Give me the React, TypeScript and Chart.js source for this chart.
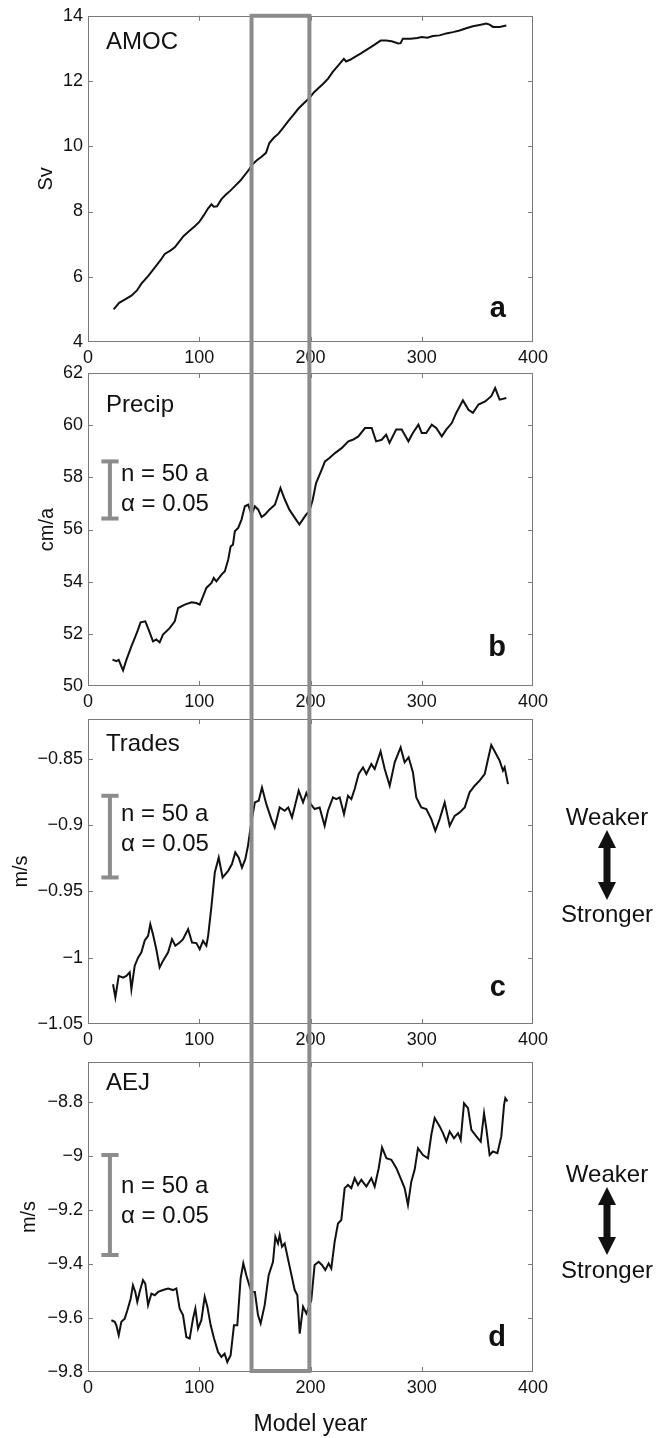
import React, { useEffect, useRef } from 'react';
import { Chart, registerables } from 'chart.js';

Chart.register(...registerables);

// ---------------- data ----------------
const X_TICKS = [0, 100, 200, 300, 400];
const X_TICK_LABELS = ['0', '100', '200', '300', '400'];
const HIGHLIGHT_YEARS = [147, 199];

const AMOC_YEARS = [23, 28, 33, 39, 44, 48, 54, 60, 65, 69, 74, 78, 82, 86, 91, 96, 100, 104, 108, 111, 113, 116, 120, 124, 128, 132, 137, 141, 145, 148, 152, 156, 160, 163, 167, 171, 175, 180, 185, 189, 194, 199, 203, 207, 211, 216, 220, 225, 230, 232, 236, 240, 245, 251, 257, 263, 268, 273, 279, 281, 283, 290, 296, 300, 305, 310, 316, 322, 328, 334, 340, 346, 352, 358, 361, 364, 370, 376];
const AMOC_SV = [5.0, 5.2, 5.3, 5.42, 5.58, 5.79, 6.02, 6.28, 6.5, 6.7, 6.8, 6.9, 7.08, 7.25, 7.4, 7.55, 7.68, 7.88, 8.1, 8.22, 8.15, 8.16, 8.38, 8.52, 8.64, 8.78, 8.95, 9.12, 9.3, 9.45, 9.58, 9.68, 9.8, 10.1, 10.26, 10.38, 10.55, 10.77, 10.98, 11.15, 11.32, 11.48, 11.65, 11.78, 11.9, 12.08, 12.28, 12.48, 12.68, 12.6, 12.66, 12.74, 12.84, 12.97, 13.1, 13.24, 13.24, 13.22, 13.15, 13.16, 13.3, 13.3, 13.32, 13.35, 13.33, 13.38, 13.4, 13.46, 13.5, 13.55, 13.62, 13.68, 13.72, 13.76, 13.73, 13.66, 13.66, 13.7];
const AMOC_TICKS = [4, 6, 8, 10, 12, 14];
const AMOC_TICK_LABELS = ['4', '6', '8', '10', '12', '14'];

const PRECIP_YEARS = [22, 25.5, 27.6, 30, 31.5, 34.5, 39, 42, 45, 47.3, 51.5, 54.5, 58.4, 61.4, 64.4, 67.4, 73.4, 78, 81, 87, 93, 97.4, 100.4, 103.4, 106.4, 111, 113, 115.4, 120, 123, 126, 128.2, 130.3, 132, 135, 138, 141, 144, 147, 150, 153, 156, 159, 163, 168, 173, 177, 181, 184, 187, 190, 193, 196, 199, 202, 205, 210, 213, 217, 222, 228, 234, 238, 243, 249, 255, 259, 264, 268, 271, 277, 282, 288, 292, 297, 300, 304, 309, 313, 318, 322, 327, 331, 337, 342, 346, 351, 357, 362.5, 366, 370, 376];
const PRECIP_CMA = [51.01, 50.95, 51.0, 50.75, 50.6, 51.0, 51.52, 51.84, 52.16, 52.44, 52.48, 52.16, 51.71, 51.78, 51.67, 51.97, 52.22, 52.48, 52.99, 53.12, 53.21, 53.18, 53.12, 53.44, 53.76, 53.95, 54.14, 54.01, 54.27, 54.4, 54.84, 55.35, 55.42, 55.93, 56.06, 56.38, 56.89, 56.95, 56.57, 56.89, 56.76, 56.48, 56.57, 56.76, 56.95, 57.59, 57.14, 56.76, 56.57, 56.38, 56.19, 56.38, 56.57, 56.7, 57.14, 57.78, 58.29, 58.61, 58.74, 58.93, 59.12, 59.38, 59.44, 59.57, 59.89, 59.89, 59.38, 59.44, 59.64, 59.32, 59.83, 59.83, 59.38, 59.7, 60.02, 59.7, 59.7, 60.02, 59.89, 59.57, 59.83, 60.08, 60.47, 60.95, 60.59, 60.47, 60.79, 60.91, 61.11, 61.42, 60.98, 61.04];
const PRECIP_TICKS = [50, 52, 54, 56, 58, 60, 62];
const PRECIP_TICK_LABELS = ['50', '52', '54', '56', '58', '60', '62'];
const PRECIP_ERR = [58.61, 56.42];

const TRADES_YEARS = [22.5, 24.6, 27.6, 31.5, 34.5, 37.5, 39, 42, 45, 48, 51, 54, 56, 58.4, 61.4, 64.4, 67.4, 72, 75.5, 78.5, 82.4, 85.4, 90, 93.5, 97.4, 100.4, 103.4, 106.4, 108, 111, 114, 117.5, 121, 126, 129.4, 132.4, 135.4, 138.4, 141.4, 143.8, 146.8, 150, 153.4, 156.4, 160.3, 164.8, 167.8, 172.3, 176.8, 180, 183.4, 189.4, 193.3, 196.3, 200.2, 203.7, 208.2, 212.7, 215.7, 220.2, 223.2, 226.2, 230.1, 233.7, 236.7, 239.7, 243.3, 247.2, 250.2, 254.7, 257.7, 263, 266.7, 271.2, 275.7, 281, 284.6, 288.2, 292.1, 295.1, 299.6, 304.1, 308.6, 312.2, 316.1, 320.6, 325.1, 329.6, 334.1, 338.6, 343, 347.6, 352, 356.6, 359.6, 362.5, 366.1, 370, 373, 374.5, 377.5];
const TRADES_MS = [-1.02, -1.03, -1.0137, -1.015, -1.0137, -1.011, -1.0238, -1.006, -1.0, -0.996, -0.987, -0.9835, -0.9747, -0.9823, -0.9936, -1.0074, -1.0024, -0.996, -0.986, -0.991, -0.9886, -0.986, -0.9785, -0.9886, -0.989, -0.9936, -0.9873, -0.991, -0.9835, -0.9609, -0.9357, -0.9244, -0.9395, -0.9345, -0.9294, -0.9206, -0.9244, -0.932, -0.9257, -0.9156, -0.898, -0.8829, -0.8816, -0.8716, -0.8842, -0.8955, -0.9018, -0.8867, -0.8892, -0.8867, -0.8942, -0.8741, -0.8829, -0.8758, -0.8842, -0.8879, -0.8867, -0.9005, -0.8892, -0.8791, -0.8804, -0.8791, -0.8917, -0.8779, -0.8804, -0.8728, -0.8615, -0.8565, -0.8615, -0.854, -0.8577, -0.8444, -0.8577, -0.8703, -0.8527, -0.8414, -0.8527, -0.8489, -0.8603, -0.8791, -0.8867, -0.8879, -0.8955, -0.9043, -0.8955, -0.8829, -0.9005, -0.893, -0.8904, -0.8867, -0.8753, -0.8703, -0.8665, -0.8615, -0.8502, -0.8396, -0.8452, -0.8514, -0.859, -0.8565, -0.8691];
const TRADES_TICKS = [-1.05, -1, -0.95, -0.9, -0.85];
const TRADES_TICK_LABELS = ['\u22121.05', '\u22121', '\u22120.95', '\u22120.9', '\u22120.85'];
const TRADES_ERR = [-0.8779, -0.9395];

const AEJ_YEARS = [21, 24, 25.5, 27.6, 30, 33, 35.4, 38.4, 40.4, 42.5, 44.3, 46.4, 49.4, 51.5, 54, 57, 60, 63, 67.4, 72, 76.4, 79.4, 82.4, 85.4, 88.4, 91.4, 94.4, 96.5, 98.9, 101.9, 104.9, 107.3, 110.3, 113.3, 116.9, 119.9, 122.8, 125.2, 128.2, 131.2, 134.2, 137.2, 139.6, 142.3, 146.8, 150, 152.8, 155.2, 158.8, 162.4, 166.3, 168.4, 170.8, 172.3, 174.4, 176.8, 181.3, 185.8, 188.2, 190.3, 193.3, 196.3, 200.7, 203.7, 207.3, 210.3, 213.3, 216.3, 218.7, 221.7, 224.7, 227.7, 230.7, 233.7, 236.7, 239.7, 242.7, 245.7, 250.2, 254.7, 257.7, 261.3, 264.3, 268.2, 272.7, 277.2, 281.6, 284.6, 287.6, 290.6, 293.6, 296.6, 301.1, 305.6, 308.6, 311.6, 316.1, 319.1, 322.1, 325.1, 329, 332.6, 335, 338, 341.6, 344.6, 349.1, 353, 356, 358, 361, 364, 368, 371.5, 374, 375.1, 377];
const AEJ_MS = [-9.608, -9.614, -9.627, -9.664, -9.614, -9.602, -9.571, -9.527, -9.478, -9.503, -9.54, -9.503, -9.459, -9.472, -9.552, -9.509, -9.515, -9.503, -9.496, -9.49, -9.496, -9.49, -9.565, -9.589, -9.67, -9.676, -9.602, -9.565, -9.639, -9.608, -9.521, -9.558, -9.627, -9.676, -9.726, -9.744, -9.732, -9.763, -9.738, -9.627, -9.627, -9.453, -9.397, -9.441, -9.503, -9.503, -9.589, -9.62, -9.552, -9.441, -9.391, -9.298, -9.323, -9.292, -9.335, -9.323, -9.41, -9.496, -9.515, -9.658, -9.558, -9.583, -9.534, -9.403, -9.391, -9.403, -9.422, -9.397, -9.416, -9.317, -9.249, -9.236, -9.118, -9.106, -9.118, -9.081, -9.106, -9.087, -9.112, -9.081, -9.112, -9.044, -8.967, -9.007, -9.013, -9.044, -9.087, -9.118, -9.18, -9.094, -9.05, -8.97, -8.995, -9.007, -8.92, -8.858, -8.889, -8.914, -8.945, -8.908, -8.933, -8.914, -8.939, -8.803, -8.821, -8.902, -8.926, -8.945, -8.84, -8.895, -8.995, -8.982, -8.988, -8.926, -8.809, -8.784, -8.796];
const AEJ_TICKS = [-9.8, -9.6, -9.4, -9.2, -9, -8.8];
const AEJ_TICK_LABELS = ['\u22129.8', '\u22129.6', '\u22129.4', '\u22129.2', '\u22129', '\u22128.8'];
const AEJ_ERR = [-8.995, -9.366];

const ERR_X = [12, 19.7, 27.5]; // left cap, bar, right cap (model years)
const ERR_TEXT = ['n = 50 a', '\u03b1 = 0.05'];

// ---------------- styles / layout ----------------
const W = 659;
const H = 1438;
const FONT = "'Liberation Sans', Arial, Helvetica, sans-serif";
const INK = '#111111';
const FRAME = '#7a7a7a';
const GRAY = '#8c8c8c';
const PLOT_LEFT = 88;
const PLOT_RIGHT = 533;

type Panel = {
  years: number[];
  values: number[];
  yMin: number;
  yMax: number;
  yTicks: number[];
  yLabels: string[];
  yTitle: string;
  yTitleCenter: number;
  name: string;
  nameBaseline: number;
  letter: string;
  letterBaseline: number;
  top: number;
  bottom: number;
  xHeight: number;
  err?: number[];
  errTextBaselines?: number[];
  arrows?: { weaker: number; tipTop: number; tipBottom: number; stronger: number };
  xTitle?: string;
};

const PANELS: Panel[] = [
  {
    years: AMOC_YEARS, values: AMOC_SV, yMin: 4, yMax: 14, yTicks: AMOC_TICKS, yLabels: AMOC_TICK_LABELS,
    yTitle: 'Sv', yTitleCenter: 46, name: 'AMOC', nameBaseline: 33, letter: 'a', letterBaseline: 25,
    top: 14, bottom: 342, xHeight: 30,
  },
  {
    years: PRECIP_YEARS, values: PRECIP_CMA, yMin: 50, yMax: 62, yTicks: PRECIP_TICKS, yLabels: PRECIP_TICK_LABELS,
    yTitle: 'cm/a', yTitleCenter: 47, name: 'Precip', nameBaseline: 39, letter: 'b', letterBaseline: 30,
    top: 373, bottom: 686, xHeight: 30, err: PRECIP_ERR, errTextBaselines: [108, 138],
  },
  {
    years: TRADES_YEARS, values: TRADES_MS, yMin: -1.05, yMax: -0.82, yTicks: TRADES_TICKS, yLabels: TRADES_TICK_LABELS,
    yTitle: 'm/s', yTitleCenter: 21, name: 'Trades', nameBaseline: 32, letter: 'c', letterBaseline: 28,
    top: 719, bottom: 1024, xHeight: 30, err: TRADES_ERR, errTextBaselines: [102, 132],
    arrows: { weaker: 106, tipTop: 111, tipBottom: 181, stronger: 203 },
  },
  {
    years: AEJ_YEARS, values: AEJ_MS, yMin: -9.8, yMax: -8.65, yTicks: AEJ_TICKS, yLabels: AEJ_TICK_LABELS,
    yTitle: 'm/s', yTitleCenter: 29, name: 'AEJ', nameBaseline: 28, letter: 'd', letterBaseline: 26,
    top: 1062, bottom: 1372, xHeight: 66, err: AEJ_ERR, errTextBaselines: [131, 161],
    arrows: { weaker: 120, tipTop: 125, tipBottom: 193, stronger: 216 },
    xTitle: 'Model year',
  },
];

function buildChart(canvas: HTMLCanvasElement, p: Panel, idx: number, charts: Chart[]) {
  const datasets: any[] = [
    {
      data: p.years.map((x, i) => ({ x, y: p.values[i] })),
      borderColor: INK,
      borderWidth: 2,
      pointRadius: 0,
      tension: 0,
      order: 1,
    },
  ];
  if (p.err) {
    const [top, bot] = p.err;
    const common = { borderColor: GRAY, borderWidth: 4, pointRadius: 0, borderCapStyle: 'butt', order: 2 };
    datasets.push({ ...common, data: [{ x: ERR_X[1], y: top }, { x: ERR_X[1], y: bot }] });
    datasets.push({ ...common, data: [{ x: ERR_X[0], y: top }, { x: ERR_X[2], y: top }] });
    datasets.push({ ...common, data: [{ x: ERR_X[0], y: bot }, { x: ERR_X[2], y: bot }] });
  }

  const isLast = idx === PANELS.length - 1;

  const decor = {
    id: 'decor' + idx,
    afterDatasetsDraw(chart: any) {
      const { ctx, chartArea: ca, scales } = chart;
      const xs = scales.x;
      const ys = scales.y;
      ctx.save();
      // frame
      ctx.strokeStyle = FRAME;
      ctx.lineWidth = 1;
      ctx.strokeRect(Math.round(ca.left) + 0.5, Math.round(ca.top) + 0.5, Math.round(ca.right - ca.left) - 1, Math.round(ca.bottom - ca.top) - 1);
      ctx.beginPath();
      xs.ticks.forEach((t: any) => {
        const px = Math.round(xs.getPixelForValue(t.value)) + 0.5;
        if (px <= ca.left + 2 || px >= ca.right - 2) return;
        ctx.moveTo(px, ca.bottom);
        ctx.lineTo(px, ca.bottom - 5);
        ctx.moveTo(px, ca.top);
        ctx.lineTo(px, ca.top + 5);
      });
      ys.ticks.forEach((t: any) => {
        const py = Math.round(ys.getPixelForValue(t.value)) + 0.5;
        if (py <= ca.top + 2 || py >= ca.bottom - 2) return;
        ctx.moveTo(ca.left, py);
        ctx.lineTo(ca.left + 5, py);
        ctx.moveTo(ca.right, py);
        ctx.lineTo(ca.right - 5, py);
      });
      ctx.stroke();

      // panel name
      ctx.fillStyle = INK;
      ctx.textBaseline = 'alphabetic';
      ctx.textAlign = 'left';
      ctx.font = `24px ${FONT}`;
      ctx.fillText(p.name, ca.left + 18, ca.top + p.nameBaseline);

      // panel letter
      ctx.font = `bold 29px ${FONT}`;
      ctx.textAlign = 'right';
      ctx.fillText(p.letter, ca.right - 27, ca.bottom - p.letterBaseline);

      // error bar caption
      if (p.errTextBaselines) {
        ctx.font = `24px ${FONT}`;
        ctx.textAlign = 'left';
        ctx.fillText(ERR_TEXT[0], ca.left + 33, ca.top + p.errTextBaselines[0]);
        ctx.fillText(ERR_TEXT[1], ca.left + 33, ca.top + p.errTextBaselines[1]);
      }

      // weaker / stronger arrows
      if (p.arrows) {
        const a = p.arrows;
        const cx = ca.right + 74;
        ctx.font = `24px ${FONT}`;
        ctx.textAlign = 'center';
        ctx.fillText('Weaker', cx, ca.top + a.weaker);
        ctx.fillText('Stronger', cx, ca.top + a.stronger);
        const t = ca.top + a.tipTop;
        const b = ca.top + a.tipBottom;
        const hw = 9, hl = 18, sw = 3.5;
        ctx.beginPath();
        ctx.moveTo(cx, t);
        ctx.lineTo(cx + hw, t + hl);
        ctx.lineTo(cx + sw, t + hl);
        ctx.lineTo(cx + sw, b - hl);
        ctx.lineTo(cx + hw, b - hl);
        ctx.lineTo(cx, b);
        ctx.lineTo(cx - hw, b - hl);
        ctx.lineTo(cx - sw, b - hl);
        ctx.lineTo(cx - sw, t + hl);
        ctx.lineTo(cx - hw, t + hl);
        ctx.closePath();
        ctx.fill();
      }
      ctx.restore();
    },
    afterDraw(chart: any) {
      if (!isLast || !charts[0]) return;
      const { ctx, chartArea: ca, scales } = chart;
      const xs = scales.x;
      const x1 = xs.getPixelForValue(HIGHLIGHT_YEARS[0]);
      const x2 = xs.getPixelForValue(HIGHLIGHT_YEARS[1]);
      const top = charts[0].chartArea.top;
      const bottom = ca.bottom - 1;
      ctx.save();
      ctx.strokeStyle = GRAY;
      ctx.lineWidth = 4;
      ctx.strokeRect(x1, top, x2 - x1, bottom - top);
      ctx.restore();
    },
  };

  return new Chart(canvas, {
    type: 'line',
    data: { datasets },
    options: {
      responsive: false,
      animation: false,
      devicePixelRatio: 1,
      events: [],
      layout: {
        padding: { left: 0, top: p.top, right: W - PLOT_RIGHT, bottom: H - p.bottom - p.xHeight },
      },
      plugins: { legend: { display: false }, tooltip: { enabled: false }, title: { display: false } },
      scales: {
        x: {
          type: 'linear',
          min: 0,
          max: 400,
          grid: { display: false, drawTicks: false },
          border: { display: false },
          afterBuildTicks: (s: any) => {
            s.ticks = X_TICKS.map((v) => ({ value: v }));
          },
          afterFit: (s: any) => {
            s.height = p.xHeight;
          },
          ticks: {
            autoSkip: false,
            maxRotation: 0,
            padding: 5,
            color: INK,
            font: { family: FONT, size: 18 },
            callback: (_v: any, i: number) => X_TICK_LABELS[i],
          },
          title: p.xTitle
            ? { display: true, text: p.xTitle, color: INK, font: { family: FONT, size: 23 }, padding: { top: 0, bottom: 0 } }
            : { display: false },
        },
        y: {
          type: 'linear',
          min: p.yMin,
          max: p.yMax,
          grid: { display: false, drawTicks: false },
          border: { display: false },
          afterBuildTicks: (s: any) => {
            s.ticks = p.yTicks.map((v) => ({ value: v }));
          },
          afterFit: (s: any) => {
            s.width = PLOT_LEFT;
          },
          ticks: {
            autoSkip: false,
            padding: 5,
            color: INK,
            font: { family: FONT, size: 18 },
            callback: (_v: any, i: number) => p.yLabels[i],
          },
          title: {
            display: true,
            text: p.yTitle,
            color: INK,
            font: { family: FONT, size: 20 },
            padding: { top: p.yTitleCenter - 12, bottom: 0 },
          },
        },
      },
    },
    plugins: [decor],
  } as any);
}

export default function App() {
  const refs = useRef<(HTMLCanvasElement | null)[]>([]);

  useEffect(() => {
    const charts: Chart[] = [];
    PANELS.forEach((p, i) => {
      const c = refs.current[i];
      if (c) charts.push(buildChart(c, p, i, charts));
    });
    return () => {
      charts.forEach((c) => c.destroy());
    };
  }, []);

  return (
    <div style={{ position: 'absolute', left: 0, top: 0, width: W, height: H, background: '#ffffff', overflow: 'hidden' }}>
      {PANELS.map((_, i) => (
        <canvas
          key={i}
          ref={(el) => {
            refs.current[i] = el;
          }}
          width={W}
          height={H}
          style={{ position: 'absolute', left: 0, top: 0, width: W, height: H }}
        />
      ))}
    </div>
  );
}
